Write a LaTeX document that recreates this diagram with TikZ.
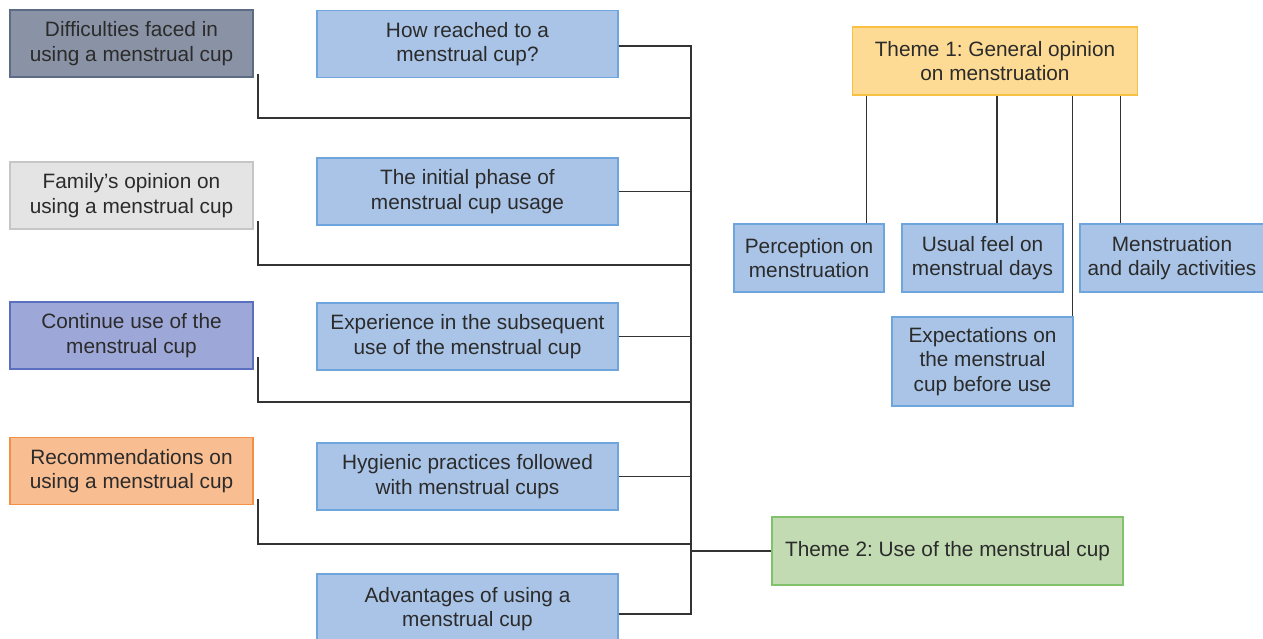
\documentclass[tikz,border=0pt]{standalone}
\usepackage{fontspec}
\setmainfont{Liberation Sans}
\frenchspacing
\definecolor{txt}{HTML}{2B2B2B}
\definecolor{ln}{HTML}{333333}
\definecolor{grayF}{HTML}{8A93A5}\definecolor{grayD}{HTML}{5D6B84}
\definecolor{lightF}{HTML}{E4E4E4}\definecolor{lightD}{HTML}{C6C6C6}
\definecolor{purF}{HTML}{9EA8D8}\definecolor{purD}{HTML}{5B6FC0}
\definecolor{orF}{HTML}{F8BD91}\definecolor{orD}{HTML}{F29048}
\definecolor{blF}{HTML}{A9C4E7}\definecolor{blD}{HTML}{6EA5DC}
\definecolor{yeF}{HTML}{FEDB94}\definecolor{yeD}{HTML}{F7C042}
\definecolor{grF}{HTML}{C2DBB3}\definecolor{grD}{HTML}{82C26D}
\begin{document}
\begin{tikzpicture}[x=1pt,y=-1pt,
  base/.style={rectangle, line width=1.2pt, inner sep=0pt, align=center, text=txt,
    font=\fontsize{20.8}{24.5}\selectfont},
  leftbox/.style={base, minimum width=243pt, minimum height=67pt},
  bluebox/.style={base, draw=blD, fill=blF},
  midbox/.style={bluebox, minimum width=301pt, minimum height=67pt},
  conn/.style={draw=ln, line width=1.3pt}]
\clip (0,0) rectangle (1263,639);
\fill[white] (0,0) rectangle (1263,639);
% left column
\node[leftbox, draw=grayD, fill=grayF] (diff) at (131.5,43.5) {Difficulties faced in\\using a menstrual cup};
\node[leftbox, draw=lightD, fill=lightF] (fam) at (131.5,195.5) {Family’s opinion on\\using a menstrual cup};
\node[leftbox, draw=purD, fill=purF] (cont) at (131.5,335.5) {Continue use of the\\menstrual cup};
\node[leftbox, draw=orD, fill=orF] (rec) at (131.5,471) {Recommendations on\\using a menstrual cup};
% middle column
\node[midbox] (how) at (467.5,44) {How reached to a\\menstrual cup?};
\node[midbox] (init) at (467.5,191.5) {The initial phase of\\menstrual cup usage};
\node[midbox] (exp2) at (467.5,336.5) {Experience in the subsequent\\use of the menstrual cup};
\node[midbox] (hyg) at (467.5,476.5) {Hygienic practices followed\\with menstrual cups};
\node[midbox, minimum height=70pt] (adv) at (467.5,609) {Advantages of using a\\menstrual cup};
% themes
\node[base, draw=yeD, fill=yeF, minimum width=285pt, minimum height=68pt] (t1) at (995,61) {Theme 1: General opinion\\on menstruation};
\node[base, draw=grD, fill=grF, minimum width=351pt, minimum height=68pt] (t2) at (947.5,551) {Theme 2: Use of the menstrual cup};
% theme 1 children
\node[bluebox, minimum width=150pt, minimum height=68pt] (perc) at (809,258) {Perception on\\menstruation};
\node[bluebox, minimum width=161pt, minimum height=68pt] (usual) at (982.5,258) {Usual feel on\\menstrual days};
\node[bluebox, minimum width=184pt, minimum height=68pt] (daily) at (1172,258) {Menstruation\\and daily activities};
\node[bluebox, minimum width=181pt, minimum height=89pt] (expect) at (982.5,361.5) {Expectations on\\the menstrual\\cup before use};
% trunk coordinates
\coordinate (tT) at (691,46);
\coordinate (tB) at (691,614);
\coordinate (jA) at (691,118);
\coordinate (jB) at (691,265);
\coordinate (jC) at (691,402);
\coordinate (jD) at (691,544);
\coordinate (jT) at (691,551);
\coordinate (sA) at (258,74);
\coordinate (sB) at (258,221);
\coordinate (sC) at (258,357);
\coordinate (sD) at (258,499);
% trunk connectors
\draw[conn] (how.east |- tT) -- (tT) -- (tB) -- (adv.east |- tB);
\draw[conn] (init.east) -- (init.east -| tT);
\draw[conn] (exp2.east) -- (exp2.east -| tT);
\draw[conn] (hyg.east) -- (hyg.east -| tT);
\draw[conn] (sA) |- (jA);
\draw[conn] (sB) |- (jB);
\draw[conn] (sC) |- (jC);
\draw[conn] (sD) |- (jD);
\draw[conn] (jT) -- (t2.west);
% theme 1 connectors
\draw[conn] ([xshift=-18pt]perc.north east) -- ([xshift=-18pt]perc.north east |- t1.south);
\draw[conn] ([xshift=14.5pt]usual.north) -- ([xshift=14.5pt]usual.north |- t1.south);
\draw[conn] ([xshift=41pt]daily.north west) -- ([xshift=41pt]daily.north west |- t1.south);
\draw[conn] ([xshift=-1pt]expect.north east) -- ([xshift=-1pt]expect.north east |- t1.south);
\end{tikzpicture}
\end{document}
